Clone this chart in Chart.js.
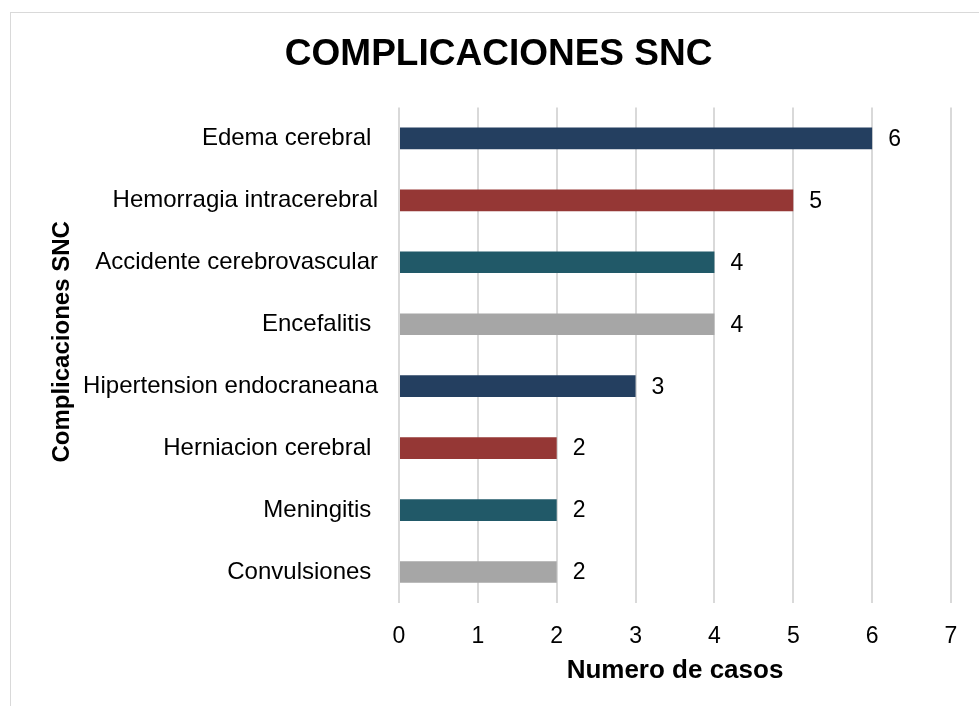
<!DOCTYPE html>
<html>
<head>
<meta charset="utf-8">
<script src="https://cdn.jsdelivr.net/npm/chart.js@4.4.0/dist/chart.umd.min.js"></script>
<style>
  html, body { margin: 0; padding: 0; background: #fff; }
  #wrap { position: relative; width: 979px; height: 706px; overflow: hidden; }
  #frame { position: absolute; left: 10px; top: 12px; width: 1000px; height: 720px; border: 1px solid #d9d9d9; }
  #c { position: absolute; left: 0; top: 0; }
</style>
</head>
<body>
<div id="wrap">
  <div id="frame"></div>
  <canvas id="c" width="979" height="706"></canvas>
</div>
<script>
/* data */
var categories = [
  'Edema cerebral ',
  'Hemorragia intracerebral',
  'Accidente cerebrovascular',
  'Encefalitis ',
  'Hipertension endocraneana',
  'Herniacion cerebral ',
  'Meningitis ',
  'Convulsiones '
];
var casos = [6, 5, 4, 4, 3, 2, 2, 2];
var barColors = ['#243f60', '#953735', '#215968', '#a6a6a6', '#243f60', '#953735', '#215968', '#a6a6a6'];
var xTicks = [0, 1, 2, 3, 4, 5, 6, 7];

var FONT = 'Liberation Sans, Arial, sans-serif';

/* value labels at the end of each bar */
var valueLabels = {
  id: 'valueLabels',
  afterDatasetsDraw: function(chart) {
    var ctx = chart.ctx;
    var meta = chart.getDatasetMeta(0);
    ctx.save();
    ctx.font = '23px ' + FONT;
    ctx.fillStyle = '#000';
    ctx.textAlign = 'left';
    ctx.textBaseline = 'middle';
    meta.data.forEach(function(bar, i) {
      ctx.fillText(String(casos[i]), bar.x + 16, bar.y + 1);
    });
    ctx.restore();
  }
};

new Chart(document.getElementById('c'), {
  type: 'bar',
  data: {
    labels: categories,
    datasets: [{
      data: casos,
      backgroundColor: barColors,
      borderWidth: 0,
      barPercentage: 0.35,
      categoryPercentage: 1
    }]
  },
  options: {
    indexAxis: 'y',
    responsive: false,
    animation: false,
    layout: { padding: { left: 36, right: 28, top: 12, bottom: 16 } },
    plugins: {
      legend: { display: false },
      tooltip: { enabled: false },
      title: {
        display: true,
        text: ' COMPLICACIONES SNC',
        color: '#000',
        font: { family: FONT, size: 37, weight: 'bold' },
        padding: { top: 21, bottom: 30 }
      }
    },
    scales: {
      x: {
        min: 0, max: 7,
        afterBuildTicks: function(scale) {
          scale.ticks = xTicks.map(function(v) { return { value: v }; });
        },
        afterFit: function(scale) { scale.height = 87; },
        grid: { color: '#d9d9d9', lineWidth: 2, drawTicks: false },
        border: { display: false },
        ticks: { color: '#000', padding: 20, font: { family: FONT, size: 23 } },
        title: {
          display: true, text: 'Numero de casos', color: '#000',
          font: { family: FONT, size: 26, weight: 'bold' },
          padding: { top: 7, bottom: 4 }
        }
      },
      y: {
        afterFit: function(scale) { scale.width = 363; },
        grid: { display: false, drawTicks: false },
        border: { display: false },
        ticks: { color: '#000', padding: 21, font: { family: FONT, size: 24 } },
        title: {
          display: true, text: '    Complicaciones SNC', color: '#000',
          font: { family: FONT, size: 24, weight: 'bold' },
          padding: { top: 12, bottom: 9 }
        }
      }
    }
  },
  plugins: [valueLabels]
});
</script>
</body>
</html>
